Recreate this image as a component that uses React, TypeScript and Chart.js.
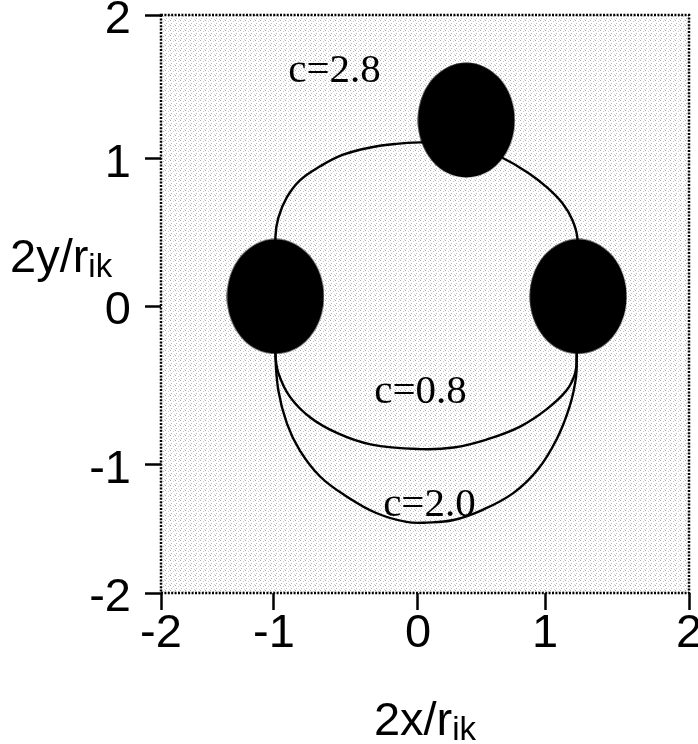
import { useEffect, useRef } from 'react';
import { Chart, registerables, LinearScale } from 'chart.js';

// ---- Axis calibration -------------------------------------------------------
// Tick values and where each one sits along its axis (0 = start, 1 = end).
// The published axes are not evenly spaced, so each unit gets its own length.
const AXIS_TICKS = [-2, -1, 0, 1, 2];
const X_TICK_LABELS = ['-2', '-1', '0', '1', '2'];
const Y_TICK_LABELS = ['-2', '-1', '0', '1', '2'];
const X_TICK_STOPS = [0, 0.214, 0.4867, 0.7273, 1];
const Y_TICK_STOPS = [0, 0.2215, 0.4965, 0.7509, 1];

// ---- Particle centres (2x/r_ik, 2y/r_ik) --------------------------------------
const particleX = [-0.99, 1.23, 0.38];
const particleY = [0.065, 0.065, 1.27];

// ---- Trajectories ------------------------------------------------------------
// c = 2.8 : upper arc passing behind the third particle
const c28X = [-0.99, -0.99, -0.97, -0.91, -0.82, -0.68, -0.52, -0.33, -0.15, 0.02, 0.21, 0.45, 0.66, 0.86, 1.01, 1.12, 1.19, 1.225, 1.23];
const c28Y = [0.065, 0.47, 0.6, 0.74, 0.855, 0.95, 1.03, 1.08, 1.105, 1.115, 1.115, 1.085, 1.01, 0.91, 0.81, 0.7, 0.585, 0.46, 0.065];

// c = 0.8 : shallow lower arc
const c08X = [-0.99, -0.99, -0.97, -0.89, -0.75, -0.56, -0.33, 0.02, 0.28, 0.54, 0.8, 1.01, 1.15, 1.21, 1.22, 1.23];
const c08Y = [0.065, -0.3, -0.42, -0.57, -0.7, -0.8, -0.87, -0.9, -0.89, -0.84, -0.76, -0.65, -0.53, -0.42, -0.32, 0.065];

// c = 2.0 : deep lower arc
const c20X = [-0.99, -0.99, -0.97, -0.91, -0.82, -0.68, -0.49, -0.29, -0.08, 0.07, 0.28, 0.51, 0.75, 0.94, 1.08, 1.17, 1.215, 1.22, 1.23];
const c20Y = [0.065, -0.3, -0.53, -0.74, -0.91, -1.09, -1.25, -1.375, -1.445, -1.45, -1.43, -1.35, -1.22, -1.04, -0.84, -0.635, -0.45, -0.32, 0.065];

// ---- Curve annotations (text, anchor x, baseline y) --------------------------
const curveLabels = ['c=2.8', 'c=0.8', 'c=2.0'];
const curveLabelX = [-0.58, 0.02, 0.09];
const curveLabelY = [1.535, -0.61, -1.4];

const SANS = '"Liberation Sans", Arial, sans-serif';
const SERIF = '"Liberation Serif", "Times New Roman", serif';

const zip = (xs: number[], ys: number[]) => xs.map((x, i) => ({ x, y: ys[i] }));

function toStop(v: number, values: number[], stops: number[]) {
  let i = 0;
  while (i < values.length - 2 && v > values[i + 1]) i++;
  const t = (v - values[i]) / (values[i + 1] - values[i]);
  return stops[i] + t * (stops[i + 1] - stops[i]);
}

function fromStop(d: number, values: number[], stops: number[]) {
  let i = 0;
  while (i < stops.length - 2 && d > stops[i + 1]) i++;
  const t = (d - stops[i]) / (stops[i + 1] - stops[i]);
  return values[i] + t * (values[i + 1] - values[i]);
}

// Linear scale whose unit length may differ from one tick interval to the next.
function makeStopScale(id: string, values: number[], stops: number[]) {
  class StopScale extends LinearScale {
    static id = id;
    static defaults = LinearScale.defaults;
    getPixelForValue(value: number) {
      if (value === null || value === undefined || Number.isNaN(value)) return NaN;
      return this.getPixelForDecimal(toStop(value, values, stops));
    }
    getValueForPixel(pixel: number) {
      return fromStop(this.getDecimalForPixel(pixel), values, stops);
    }
  }
  return StopScale;
}

const StopX = makeStopScale('stopX', AXIS_TICKS, X_TICK_STOPS);
const StopY = makeStopScale('stopY', AXIS_TICKS, Y_TICK_STOPS);

Chart.register(...registerables, StopX, StopY);

// Solid black oval used as the particle marker
function particleMarker() {
  const c = document.createElement('canvas');
  c.width = 98;
  c.height = 116;
  const g = c.getContext('2d')!;
  g.fillStyle = '#000';
  g.beginPath();
  g.ellipse(49, 58, 48.5, 57.5, 0, 0, Math.PI * 2);
  g.fill();
  return c;
}

// Fine grey stipple used to shade the plotting field
function stippleTile() {
  const c = document.createElement('canvas');
  c.width = 5;
  c.height = 5;
  const g = c.getContext('2d')!;
  const dots: [number, number, string][] = [
    [0, 0, '#a8a8a8'],
    [3, 1, '#c8c8c8'],
    [1, 3, '#bcbcbc'],
    [4, 4, '#d4d4d4'],
  ];
  dots.forEach(([x, y, col]) => {
    g.fillStyle = col;
    g.fillRect(x, y, 1, 1);
  });
  return c;
}

const fieldPlugin = {
  id: 'field',
  beforeDraw(chart: any) {
    const { ctx, chartArea: a } = chart;
    ctx.save();
    ctx.fillStyle = '#ffffff';
    ctx.fillRect(0, 0, chart.width, chart.height);
    const pat = ctx.createPattern(stippleTile(), 'repeat');
    if (pat) {
      ctx.fillStyle = pat;
      ctx.fillRect(a.left, a.top, a.right - a.left, a.bottom - a.top);
    }
    ctx.restore();
  },
};

const framePlugin = {
  id: 'frame',
  afterDatasetsDraw(chart: any) {
    const { ctx, chartArea: a } = chart;
    ctx.save();
    ctx.strokeStyle = '#000';
    ctx.lineWidth = 2.5;
    ctx.setLineDash([2, 1.4]);
    ctx.strokeRect(a.left, a.top, a.right - a.left, a.bottom - a.top);
    ctx.restore();
  },
};

function drawSubscripted(ctx: CanvasRenderingContext2D, main: string, sub: string, x: number, y: number, align: 'left' | 'center') {
  ctx.font = `47px ${SANS}`;
  const wMain = ctx.measureText(main).width;
  ctx.font = `33px ${SANS}`;
  const wSub = ctx.measureText(sub).width;
  const x0 = align === 'center' ? x - (wMain + wSub) / 2 : x;
  ctx.textBaseline = 'alphabetic';
  ctx.textAlign = 'left';
  ctx.font = `47px ${SANS}`;
  ctx.fillText(main, x0, y);
  ctx.font = `33px ${SANS}`;
  ctx.fillText(sub, x0 + wMain, y + 5);
}

const annotationPlugin = {
  id: 'annotations',
  afterDraw(chart: any) {
    const { ctx, chartArea: a, scales } = chart;
    ctx.save();
    ctx.fillStyle = '#000';
    // curve labels
    ctx.font = `41px ${SERIF}`;
    ctx.textAlign = 'center';
    ctx.textBaseline = 'alphabetic';
    curveLabels.forEach((t, i) => {
      ctx.fillText(t, scales.x.getPixelForValue(curveLabelX[i]), scales.y.getPixelForValue(curveLabelY[i]));
    });
    // axis titles
    drawSubscripted(ctx, '2x/r', 'ik', (a.left + a.right) / 2, 735, 'center');
    drawSubscripted(ctx, '2y/r', 'ik', 10, 272, 'left');
    ctx.restore();
  },
};

export default function App() {
  const canvasRef = useRef<HTMLCanvasElement | null>(null);

  useEffect(() => {
    if (!canvasRef.current) return;
    const marker = particleMarker();

    const curve = (label: string, xs: number[], ys: number[]) => ({
      label,
      data: zip(xs, ys),
      showLine: true,
      borderColor: '#000',
      borderWidth: 2.4,
      pointRadius: 0,
      tension: 0.4,
      fill: false,
      order: 1,
    });

    const chart = new Chart(canvasRef.current, {
      type: 'scatter',
      data: {
        datasets: [
          {
            label: 'particles',
            data: zip(particleX, particleY),
            pointStyle: marker as any,
            pointRadius: 1,
            showLine: false,
            order: 0,
          },
          curve('c=2.8', c28X, c28Y),
          curve('c=0.8', c08X, c08Y),
          curve('c=2.0', c20X, c20Y),
        ],
      },
      options: {
        animation: false,
        responsive: true,
        maintainAspectRatio: false,
        events: [],
        layout: { padding: { left: 0, right: 9, top: 15, bottom: 0 } },
        plugins: {
          legend: { display: false },
          tooltip: { enabled: false },
        },
        scales: {
          x: {
            type: 'stopX' as any,
            position: 'bottom',
            min: -2,
            max: 2,
            border: { display: false },
            grid: {
              drawOnChartArea: false,
              drawTicks: true,
              tickLength: 17,
              tickWidth: 2.5,
              tickColor: '#000',
            },
            ticks: {
              stepSize: 1,
              autoSkip: false,
              maxRotation: 0,
              color: '#000',
              padding: -4,
              font: { family: SANS, size: 47 },
              callback: (v: any) => X_TICK_LABELS[AXIS_TICKS.indexOf(Number(v))] ?? '',
            },
            afterFit: (s: any) => {
              s.height = 151;
              s.paddingLeft = 0;
              s.paddingRight = 0;
            },
          },
          y: {
            type: 'stopY' as any,
            position: 'left',
            min: -2,
            max: 2,
            border: { display: false },
            grid: {
              drawOnChartArea: false,
              drawTicks: true,
              tickLength: 16,
              tickWidth: 2.5,
              tickColor: '#000',
            },
            ticks: {
              stepSize: 1,
              autoSkip: false,
              color: '#000',
              padding: 14,
              labelOffset: 5,
              font: { family: SANS, size: 47 },
              callback: (v: any) => Y_TICK_LABELS[AXIS_TICKS.indexOf(Number(v))] ?? '',
            },
            afterFit: (s: any) => {
              s.width = 161;
              s.paddingTop = 0;
              s.paddingBottom = 0;
            },
          },
        },
      },
      plugins: [fieldPlugin, framePlugin, annotationPlugin],
    });

    return () => chart.destroy();
  }, []);

  return (
    <div style={{ position: 'fixed', left: 0, top: 0, width: 698, height: 744 }}>
      <canvas ref={canvasRef} />
    </div>
  );
}
